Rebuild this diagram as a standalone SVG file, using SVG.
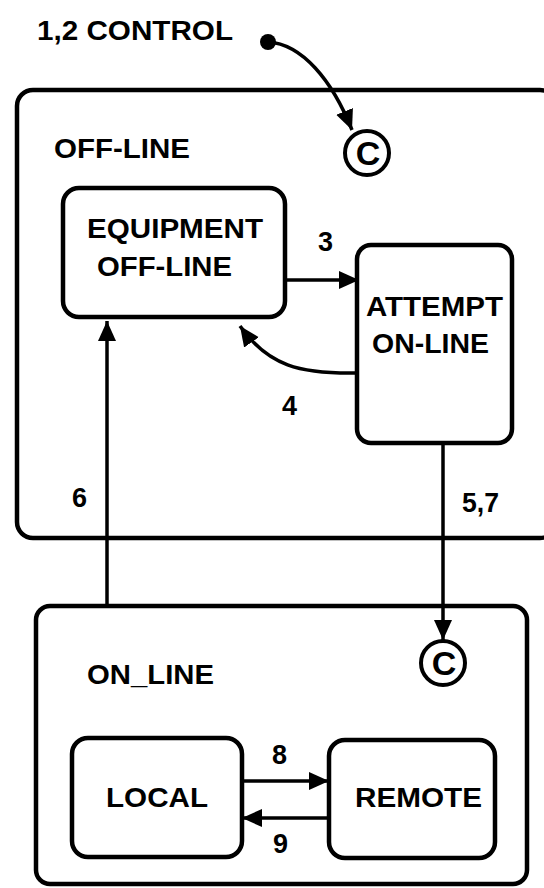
<svg xmlns="http://www.w3.org/2000/svg" width="544" height="888" viewBox="0 0 544 888">
<defs>
<style>
.box{fill:none;stroke:#000;stroke-width:4.5}
.conn{fill:none;stroke:#000;stroke-width:3.5}
.t{font-family:"Liberation Sans",Arial,Helvetica,sans-serif;font-weight:bold;font-size:27px;fill:#000}
.c{font-family:"Liberation Sans",Arial,Helvetica,sans-serif;font-weight:bold;font-size:34px;fill:#000;text-anchor:middle}
.hist{fill:#fff;stroke:#000;stroke-width:4}
</style>
<marker id="ah" markerUnits="userSpaceOnUse" markerWidth="22" markerHeight="20" refX="20" refY="9" orient="auto">
<path d="M0,0 L20,9 L0,18 Z" fill="#000"/>
</marker>
</defs>
<rect width="544" height="888" fill="#fff"/>

<g id="off-line">
<rect class="box" x="17" y="90" width="539" height="448" rx="16"/>
<text class="t" x="54" y="158" textLength="136" lengthAdjust="spacingAndGlyphs">OFF-LINE</text>
</g>
<g id="off-line-history">
<circle class="hist" cx="367" cy="153" r="22"/>
<text class="c" x="368" y="165">C</text>
</g>
<g id="equipment-off-line">
<rect class="box" x="63" y="188" width="222" height="129" rx="16"/>
<text class="t" x="87" y="238" textLength="176" lengthAdjust="spacingAndGlyphs">EQUIPMENT</text>
<text class="t" x="97" y="276" textLength="135" lengthAdjust="spacingAndGlyphs">OFF-LINE</text>
</g>
<g id="attempt-on-line">
<rect class="box" x="357" y="245" width="155" height="198" rx="14"/>
<text class="t" x="366" y="316" textLength="137" lengthAdjust="spacingAndGlyphs">ATTEMPT</text>
<text class="t" x="372" y="353" textLength="117" lengthAdjust="spacingAndGlyphs">ON-LINE</text>
</g>
<g id="on-line">
<rect class="box" x="36" y="606" width="491" height="278" rx="14"/>
<text class="t" x="87" y="684" textLength="127" lengthAdjust="spacingAndGlyphs">ON_LINE</text>
</g>
<g id="on-line-history">
<circle class="hist" cx="443" cy="663" r="22"/>
<text class="c" x="444" y="675">C</text>
</g>
<g id="local">
<rect class="box" x="72" y="738" width="170" height="119" rx="16"/>
<text class="t" x="106" y="807" textLength="102" lengthAdjust="spacingAndGlyphs">LOCAL</text>
</g>
<g id="remote">
<rect class="box" x="329" y="740" width="166" height="118" rx="16"/>
<text class="t" x="355" y="807" textLength="127" lengthAdjust="spacingAndGlyphs">REMOTE</text>
</g>

<g id="connectors">
<circle cx="268" cy="42" r="8" fill="#000"/>
<path class="conn" d="M268,42 C302,44 332,80 352,130" marker-end="url(#ah)"/>
<path class="conn" d="M285,280 L359,280" marker-end="url(#ah)"/>
<path class="conn" d="M357,373 C300,374 268,366 240,326" marker-end="url(#ah)"/>
<path class="conn" d="M107,606 L107,321" marker-end="url(#ah)"/>
<path class="conn" d="M443,443 L443,640" marker-end="url(#ah)"/>
<path class="conn" d="M242,781 L329,781" marker-end="url(#ah)"/>
<path class="conn" d="M329,818 L242,818" marker-end="url(#ah)"/>
<text class="t" x="37" y="40" textLength="196" lengthAdjust="spacingAndGlyphs">1,2 CONTROL</text>
<text class="t" x="318" y="251">3</text>
<text class="t" x="282" y="415">4</text>
<text class="t" x="72" y="507">6</text>
<text class="t" x="462" y="512" textLength="37" lengthAdjust="spacingAndGlyphs">5,7</text>
<text class="t" x="272" y="764">8</text>
<text class="t" x="273" y="853">9</text>
</g>
</svg>
